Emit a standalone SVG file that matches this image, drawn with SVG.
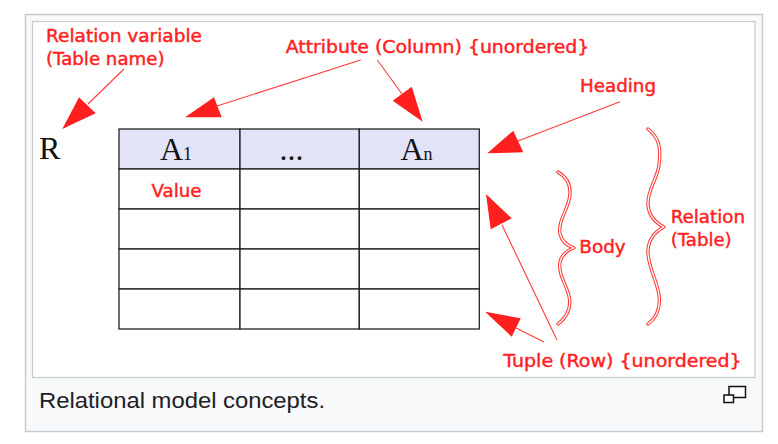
<svg xmlns="http://www.w3.org/2000/svg" width="778" height="444" viewBox="0 0 778 444">
<style>
.lbl{font-family:"DejaVu Sans","Verdana",sans-serif;font-size:18.3px;fill:#ff2121;stroke:#ff2121;stroke-width:0.45px}
.ser{font-family:"Liberation Serif","Times New Roman",serif;fill:#111}
.cell{fill:#fff;stroke:#222;stroke-width:1.3}
.head{fill:#e3e3f8;stroke:#222;stroke-width:1.3}
.ln{stroke:#ff3b3b;stroke-width:1.1;fill:none}
.ah{fill:#ff1f1f;stroke:none}
.br1{fill:none;stroke:#ff3a3a;stroke-width:3.4;stroke-linecap:round;stroke-linejoin:round}
.br2{fill:none;stroke:#fff;stroke-width:1.3;stroke-linecap:round;stroke-linejoin:round}
</style>
<rect x="0" y="0" width="778" height="444" fill="#fff"/>
<g id="frame">
<rect x="25.5" y="14.5" width="737" height="417" fill="#f8f9fa" stroke="#c8ccd1" stroke-width="1.5"/>
<rect x="32.5" y="21.5" width="722.5" height="356" fill="#fff" stroke="#c8ccd1" stroke-width="1.3"/>
</g>
<g id="table">
<rect class="head" x="119" y="129" width="121" height="40"/>
<rect class="head" x="240" y="129" width="119.3" height="40"/>
<rect class="head" x="359.3" y="129" width="120" height="40"/>
<rect class="cell" x="119" y="169" width="121" height="40"/>
<rect class="cell" x="240" y="169" width="119.3" height="40"/>
<rect class="cell" x="359.3" y="169" width="120" height="40"/>
<rect class="cell" x="119" y="209" width="121" height="40"/>
<rect class="cell" x="240" y="209" width="119.3" height="40"/>
<rect class="cell" x="359.3" y="209" width="120" height="40"/>
<rect class="cell" x="119" y="249" width="121" height="40"/>
<rect class="cell" x="240" y="249" width="119.3" height="40"/>
<rect class="cell" x="359.3" y="249" width="120" height="40"/>
<rect class="cell" x="119" y="289" width="121" height="40"/>
<rect class="cell" x="240" y="289" width="119.3" height="40"/>
<rect class="cell" x="359.3" y="289" width="120" height="40"/>
<text class="ser" x="160" y="160" font-size="32">A<tspan font-size="18">1</tspan></text>
<text class="ser" x="279.5" y="159.5" font-size="32">...</text>
<text class="ser" x="400.5" y="160" font-size="32">A<tspan font-size="18">n</tspan></text>
<text class="lbl" x="151.5" y="196.5" textLength="50" lengthAdjust="spacingAndGlyphs">Value</text>
</g>
<g id="relvar">
<text class="ser" x="39" y="159" font-size="32">R</text>
<text class="lbl" x="46" y="42" textLength="156" lengthAdjust="spacingAndGlyphs">Relation variable</text>
<text class="lbl" x="46" y="65" textLength="118.5" lengthAdjust="spacingAndGlyphs">(Table name)</text>
</g>
<g id="attribute">
<text class="lbl" x="285.7" y="53" textLength="303.6" lengthAdjust="spacingAndGlyphs">Attribute (Column) {unordered}</text>
</g>
<g id="heading">
<text class="lbl" x="580" y="91.5" textLength="76" lengthAdjust="spacingAndGlyphs">Heading</text>
</g>
<g id="body">
<path class="br1" d="M558,172 C568,178 572,188 569,200 C566,212 558,222 560,234 C562,242 568,246 574,248 C568,250 562,254 560,262 C558,274 566,284 569,296 C572,308 566,318 558,324"/>
<path class="br2" d="M558,172 C568,178 572,188 569,200 C566,212 558,222 560,234 C562,242 568,246 574,248 C568,250 562,254 560,262 C558,274 566,284 569,296 C572,308 566,318 558,324"/>
<text class="lbl" x="579.3" y="252.5" textLength="46.4" lengthAdjust="spacingAndGlyphs">Body</text>
</g>
<g id="relation">
<path class="br1" d="M648,129 C660,138 661,150 659,165 C657,180 647,190 648,205 C649,216 656,223 664,227 C656,231 649,238 648,250 C647,265 657,280 659,295 C661,310 656,318 648,324"/>
<path class="br2" d="M648,129 C660,138 661,150 659,165 C657,180 647,190 648,205 C649,216 656,223 664,227 C656,231 649,238 648,250 C647,265 657,280 659,295 C661,310 656,318 648,324"/>
<text class="lbl" x="670.7" y="222.5" textLength="74.3" lengthAdjust="spacingAndGlyphs">Relation</text>
<text class="lbl" x="670.7" y="245.5" textLength="61" lengthAdjust="spacingAndGlyphs">(Table)</text>
</g>
<g id="tuple">
<text class="lbl" x="503.3" y="366.5" textLength="238.4" lengthAdjust="spacingAndGlyphs">Tuple (Row) {unordered}</text>
</g>
<g id="connectors">
<line class="ln" x1="124" y1="69" x2="88" y2="104"/>
<polygon class="ah" points="62.3,129 79,97.3 95.7,113.3"/>
<line class="ln" x1="360.7" y1="60" x2="217" y2="106"/>
<polygon class="ah" points="185,117.3 214,97.3 221.7,117.3"/>
<line class="ln" x1="377.3" y1="60" x2="402" y2="94"/>
<polygon class="ah" points="422.7,121.7 392.7,100.7 411.7,86.7"/>
<line class="ln" x1="620" y1="101.7" x2="518" y2="141"/>
<polygon class="ah" points="487.3,153.3 513.3,130.7 523.3,152.3"/>
<line class="ln" x1="557" y1="340" x2="502" y2="225"/>
<polygon class="ah" points="486,194 511.7,218.3 490.7,229.3"/>
<line class="ln" x1="544" y1="342" x2="516" y2="328"/>
<polygon class="ah" points="485,311.7 520.7,318.3 511.7,336.7"/>
</g>
<g id="caption">
<text x="39" y="408.3" font-family="'Liberation Sans',Arial,sans-serif" font-size="22" fill="#202122" textLength="286" lengthAdjust="spacingAndGlyphs">Relational model concepts.</text>
<rect x="729" y="386.5" width="16.5" height="11" fill="#fff" stroke="#111" stroke-width="1.5"/>
<rect x="724" y="395" width="9.5" height="7.5" fill="#fff" stroke="#111" stroke-width="1.5"/>
</g>
</svg>
